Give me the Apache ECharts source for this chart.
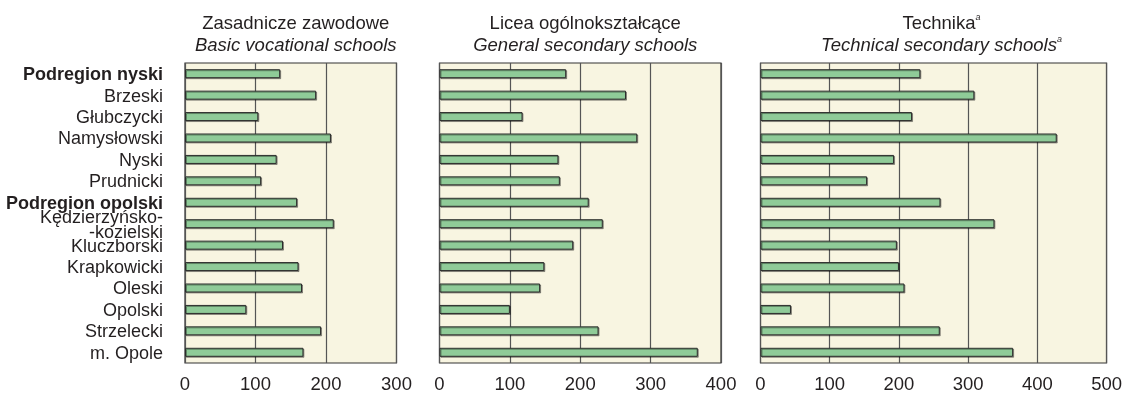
<!DOCTYPE html>
<html>
<head>
<meta charset="utf-8">
<script src="https://cdn.jsdelivr.net/npm/echarts@6/dist/echarts.min.js"></script>
<style>html,body{margin:0;padding:0;background:#fff}#c{width:1125px;height:394px}</style>
</head>
<body>
<div id="c"></div>
<script>
const categories = ['Podregion nyski','Brzeski','Głubczycki','Namysłowski','Nyski','Prudnicki','Podregion opolski','Kędzierzyńsko-\n-kozielski','Kluczborski','Krapkowicki','Oleski','Opolski','Strzelecki','m. Opole'];
const basicVocational = [135, 186, 104, 207, 130, 108, 159, 211, 139, 161, 166, 87, 193, 168];
const generalSecondary = [180, 265, 118, 281, 169, 171, 212, 232, 190, 149, 143, 100, 226, 367];
const technicalSecondary = [231, 309, 219, 428, 193, 154, 260, 338, 197, 200, 208, 44, 259, 365];
const titlesPl = ['Zasadnicze zawodowe', 'Licea ogólnokształcące', 'Technika'];
const titlesEn = ['Basic vocational schools', 'General secondary schools', 'Technical secondary schools'];
const axisMax = [300, 400, 500];
const axisInterval = 100;

const FONT = 'Liberation Sans, Arial, sans-serif';
const TXT = '#231f20';
const grids = [
  {left: 185, width: 211.5},
  {left: 439.5, width: 281.5},
  {left: 760.5, width: 352}
];
const seriesData = [basicVocational, generalSecondary, technicalSecondary];

const option = {
  animation: false,
  backgroundColor: '#ffffff',
  title: grids.map((g, i) => ({
    left: g.left + g.width / 2,
    top: 8,
    textAlign: 'center',
    text: i === 2
      ? '{n|' + titlesPl[i] + '}{s|a}\n{i|' + titlesEn[i] + '}{s|a}'
      : '{n|' + titlesPl[i] + '}\n{i|' + titlesEn[i] + '}',
    textStyle: {
      fontFamily: FONT, color: TXT, fontSize: 18.5, fontWeight: 'normal', lineHeight: 22,
      rich: {
        n: {fontFamily: FONT, color: TXT, fontSize: 18.5, lineHeight: 22},
        i: {fontFamily: FONT, color: TXT, fontSize: 18.5, fontStyle: 'italic', lineHeight: 22},
        s: {fontFamily: FONT, color: TXT, fontSize: 9, fontStyle: 'italic', lineHeight: 22, verticalAlign: 'top', padding: [0, 0, 4, 0]}
      }
    }
  })),
  grid: grids.map(g => ({
    left: g.left, width: g.width, top: 63, height: 302,
    show: true, backgroundColor: '#f8f5e1', borderColor: '#333333', borderWidth: 1.2,
    containLabel: false
  })),
  xAxis: grids.map((g, i) => ({
    type: 'value', gridIndex: i, min: 0, max: axisMax[i], interval: axisInterval,
    axisLine: {show: false}, axisTick: {show: false},
    splitLine: {show: true, lineStyle: {color: '#555555', width: 1.2}},
    axisLabel: {fontFamily: FONT, color: TXT, fontSize: 18.5, margin: 12}
  })),
  yAxis: grids.map((g, i) => ({
    type: 'category', gridIndex: i, data: categories, inverse: true,
    axisLine: {show: false}, axisTick: {show: false}, splitLine: {show: false},
    axisLabel: i === 0 ? {
      show: true, interval: 0, margin: 22, fontFamily: FONT, color: TXT, fontSize: 18, lineHeight: 15,
      padding: [3, 0, 0, 0],
      formatter: v => v.indexOf('Podregion') === 0 ? '{b|' + v + '}' : v,
      rich: {b: {fontFamily: FONT, color: TXT, fontSize: 18, fontWeight: 'bold', lineHeight: 15}}
    } : {show: false}
  })),
  series: seriesData.map((d, i) => ({
    type: 'bar', xAxisIndex: i, yAxisIndex: i, data: d, barWidth: 9,
    itemStyle: {
      color: '#8fcb98', borderColor: '#2b2b2b', borderWidth: 1,
      shadowColor: 'rgba(0,0,0,0.35)', shadowOffsetX: 1, shadowOffsetY: 1, shadowBlur: 0
    }
  }))
};
const chart = echarts.init(document.getElementById('c'), null, {renderer: 'canvas'});
chart.setOption(option);
</script>
</body>
</html>
